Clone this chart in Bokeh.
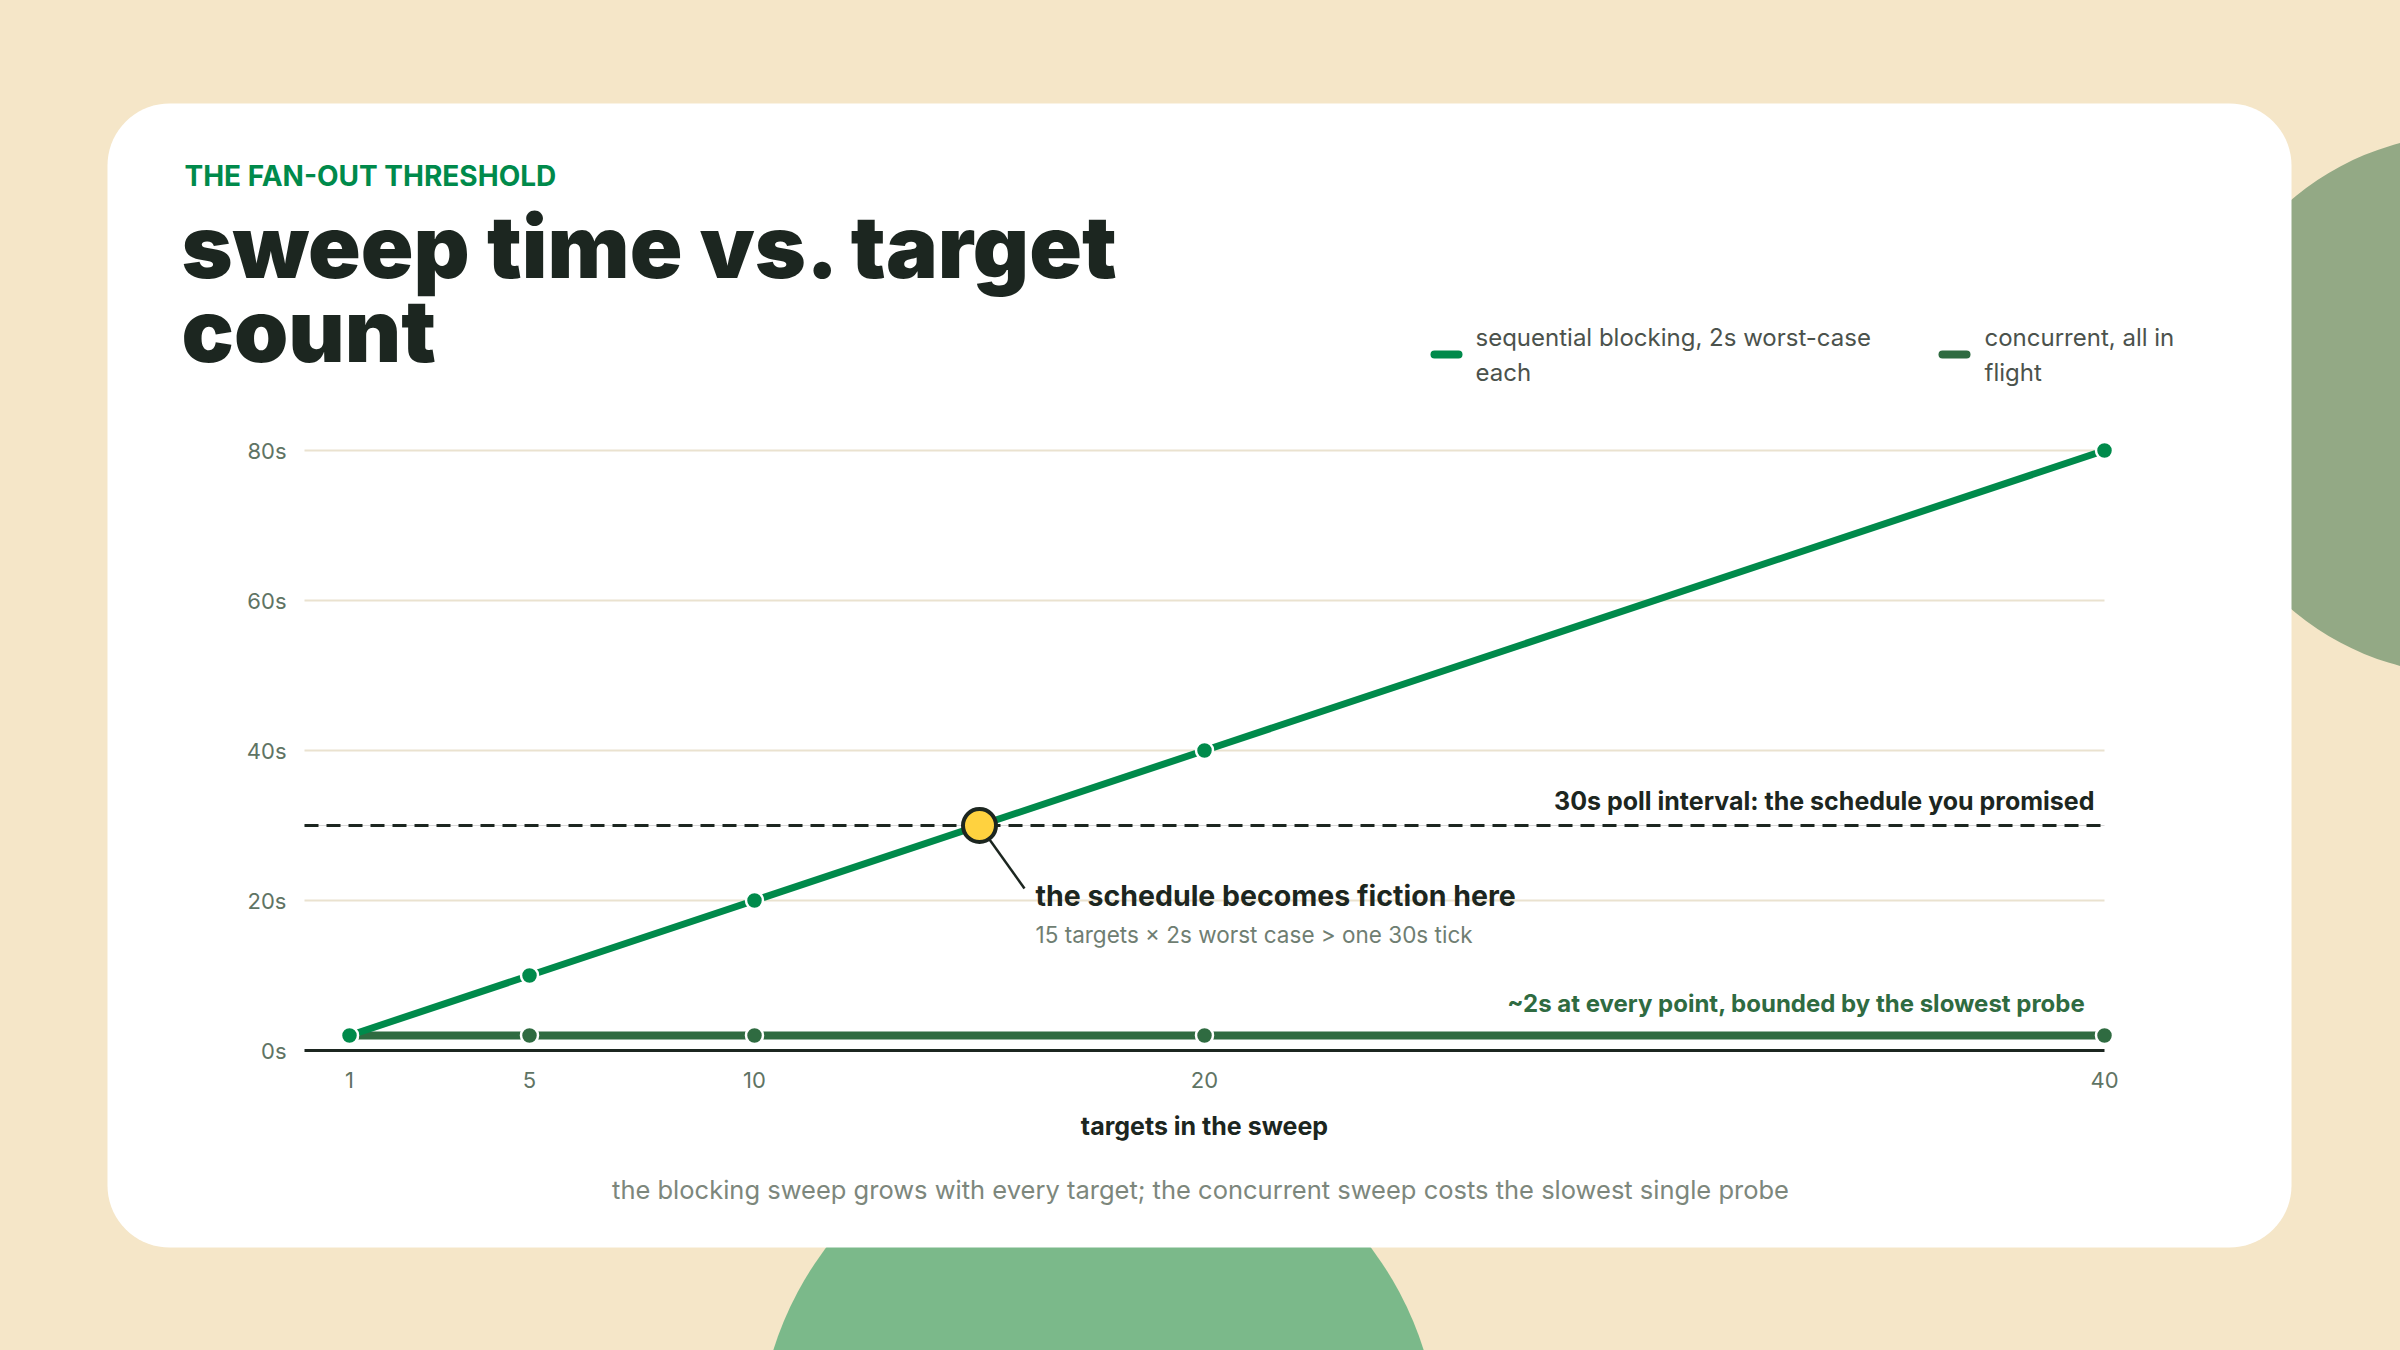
import math
from bokeh.plotting import figure
from bokeh.models import Range1d, FixedTicker, BoxAnnotation, Label
from bokeh.embed import file_html
from bokeh.resources import INLINE

# ---------------- data ----------------
targets = [1, 5, 10, 20, 40]
sequential_s = [2, 10, 20, 40, 80]
concurrent_s = [2, 2, 2, 2, 2]
poll_interval_s = 30
poll_span_x = [0, 40]
crossing_target = [15]
crossing_s = [30]
x_ticks = [1, 5, 10, 20, 40]
x_tick_labels = ["1", "5", "10", "20", "40"]
y_ticks = [0, 20, 40, 60, 80]
y_tick_labels = ["0s", "20s", "40s", "60s", "80s"]
series_names = ["sequential blocking, 2s worst-case", "concurrent, all in"]
series_names_2 = ["each", "flight"]

# ---------------- style ----------------
BG = "#F5E6C8"
CARD = "#FFFFFF"
SAGE = "#93A985"
MINT = "#7BB98A"
GREEN = "#008A4B"
DARK_GREEN = "#2F6B41"
INK = "#1C2620"
MUTED = "#5F7464"
LEGEND_TXT = "#4B524C"
CAPTION = "#7D877C"
SUBTXT = "#6F7E72"
GRID = "#EAE2CF"
YELLOW = "#FFD23F"
FONT = "Inter"
HEAVY_FONT = "Inter Black, Inter"

W, H = 2400, 1350
X0_PAGE, X_PX = 304.0, 45.0     # page x of target 0, pixels per target
Y0_PAGE, Y_PX = 1050.0, 7.5     # page y of 0 s, pixels per second


def dx(px):
    return (px - X0_PAGE) / X_PX


def dy(py):
    return (Y0_PAGE - py) / Y_PX


p = figure(width=W, height=H, output_backend="svg", toolbar_location=None,
           x_range=Range1d(dx(0), dx(W)), y_range=Range1d(dy(H), dy(0)),
           min_border=0, min_border_left=0, min_border_right=0,
           min_border_top=0, min_border_bottom=0,
           background_fill_color=BG, border_fill_color=BG,
           outline_line_color=None)

# ---------------- decorative background ----------------
p.scatter([dx(2467)], [dy(404)], size=540, marker="circle", fill_color=SAGE,
          line_color=None, level="image")
p.scatter([dx(1098)], [dy(1452)], size=682, marker="circle", fill_color=MINT,
          line_color=None, level="image")


def rounded_rect(x0, y0, x1, y1, r, n=18):
    pts = []
    corners = [(x1 - r, y0 + r, -90, 0), (x1 - r, y1 - r, 0, 90),
               (x0 + r, y1 - r, 90, 180), (x0 + r, y0 + r, 180, 270)]
    for ccx, ccy, a0, a1 in corners:
        for k in range(n + 1):
            a = math.radians(a0 + (a1 - a0) * k / n)
            pts.append((ccx + r * math.cos(a), ccy + r * math.sin(a)))
    return [dx(a) for a, b in pts], [dy(b) for a, b in pts]


cxs, cys = rounded_rect(107, 103, 2291, 1247, 62)
p.patch(cxs, cys, fill_color=CARD, line_color=None, level="image")

# ---------------- grid & axes ----------------
p.xgrid.visible = False
g = p.ygrid[0]
g.ticker = FixedTicker(ticks=y_ticks[1:])
g.grid_line_color = GRID
g.grid_line_width = 2
g.level = "underlay"
try:
    g.cross_bounds = (poll_span_x[0], poll_span_x[1])
except Exception:
    pass

xa = p.xaxis[0]
xa.fixed_location = 0
xa.ticker = FixedTicker(ticks=x_ticks)
xa.major_label_overrides = {t: l for t, l in zip(x_ticks, x_tick_labels)}
xa.bounds = (poll_span_x[0], poll_span_x[1])
xa.axis_line_color = INK
xa.axis_line_width = 3
xa.major_tick_line_color = None
xa.minor_tick_line_color = None
xa.major_tick_out = 0
xa.major_tick_in = 0
xa.minor_tick_out = 0
xa.minor_tick_in = 0
xa.major_label_text_font = FONT
xa.major_label_text_font_size = "22px"
xa.major_label_text_color = MUTED
xa.major_label_standoff = 21
xa.axis_label = "targets in the sweep"
xa.axis_label_text_font = FONT
xa.axis_label_text_font_size = "25px"
xa.axis_label_text_font_style = "bold"
xa.axis_label_text_color = INK
xa.axis_label_standoff = 20

ya = p.yaxis[0]
ya.fixed_location = 0
ya.ticker = FixedTicker(ticks=y_ticks)
ya.major_label_overrides = {t: l for t, l in zip(y_ticks, y_tick_labels)}
ya.axis_line_color = None
ya.major_tick_line_color = None
ya.minor_tick_line_color = None
ya.major_tick_out = 0
ya.major_tick_in = 0
ya.minor_tick_out = 0
ya.minor_tick_in = 0
ya.major_label_text_font = FONT
ya.major_label_text_font_size = "22px"
ya.major_label_text_color = MUTED
ya.major_label_standoff = 18

# ---------------- data marks ----------------
p.line(poll_span_x, [poll_interval_s, poll_interval_s], line_color="#D8D8D8", line_width=1)
p.line(poll_span_x, [poll_interval_s, poll_interval_s], line_color=INK, line_width=3,
       line_dash="14 8")
p.line(targets, concurrent_s, line_color=DARK_GREEN, line_width=8)
p.scatter(targets, concurrent_s, size=17, fill_color=DARK_GREEN, line_color="white",
          line_width=2.5)
p.line(targets, sequential_s, line_color=GREEN, line_width=7)
p.scatter(targets, sequential_s, size=17, fill_color=GREEN, line_color="white",
          line_width=2.5)
p.line([crossing_target[0], dx(1024)], [crossing_s[0], dy(888)], line_color=INK,
       line_width=2.5)
p.scatter(crossing_target, crossing_s, size=33, fill_color=YELLOW, line_color=INK,
          line_width=4)

# ---------------- legend ----------------
has_radius = "border_radius" in BoxAnnotation.properties()
for (sx0, tx, col, t1, t2) in [(1430, 1475, GREEN, series_names[0], series_names_2[0]),
                                (1938, 1984, DARK_GREEN, series_names[1], series_names_2[1])]:
    kw = dict(left=dx(sx0), right=dx(sx0 + 32), top=dy(350), bottom=dy(358),
              fill_color=col, fill_alpha=1, line_color=None)
    if has_radius:
        kw["border_radius"] = 4
    p.add_layout(BoxAnnotation(**kw))
    for txt, yy in [(t1, 337), (t2, 372)]:
        p.add_layout(Label(x=dx(tx), y=dy(yy), text=txt, text_font=FONT,
                           text_font_size="24px", text_color=LEGEND_TXT,
                           text_baseline="middle", text_align="left"))


# ---------------- texts ----------------
def label(px, py, text, size, color, bold=False, align="left", font=FONT):
    p.add_layout(Label(x=dx(px), y=dy(py), text=text, text_font=font,
                       text_font_size=size, text_color=color,
                       text_font_style="bold" if bold else "normal",
                       text_align=align, text_baseline="middle"))


label(184, 175, "THE FAN-OUT THRESHOLD", "28px", GREEN, bold=True)
label(181, 246, "sweep time vs. target", "87px", INK, bold=True, font=HEAVY_FONT)
label(181, 330, "count", "87px", INK, bold=True, font=HEAVY_FONT)
label(2094, 800, "30s poll interval: the schedule you promised", "25px", INK, bold=True,
      align="right")
label(1035, 895, "the schedule becomes fiction here", "28.5px", INK, bold=True)
label(1035, 934, "15 targets \u00d7 2s worst case > one 30s tick", "22.5px", SUBTXT)
label(2085, 1003, "~2s at every point, bounded by the slowest probe", "24px", DARK_GREEN,
      bold=True, align="right")
label(1200, 1189, "the blocking sweep grows with every target; the concurrent sweep costs "
      "the slowest single probe", "25.5px", CAPTION, align="center")

html = file_html(p, INLINE, title="sweep time vs. target count")
html = html.replace("</head>", "<style>html,body{background:%s;}</style></head>" % BG, 1)
with open("out.html", "w") as f:
    f.write(html)
